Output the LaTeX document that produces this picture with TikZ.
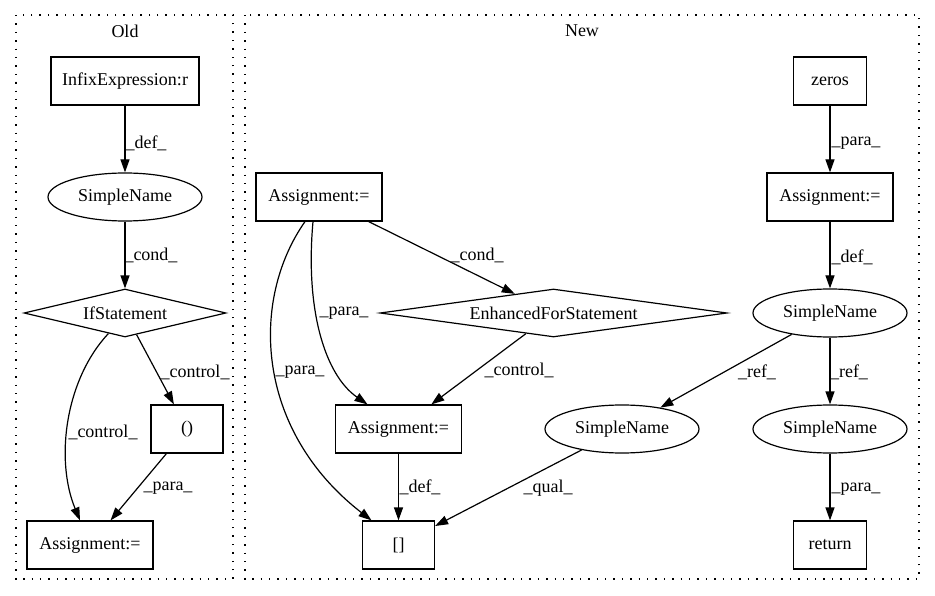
\documentclass[tikz,border=0pt]{standalone}
\usepackage{fontspec}
\setmainfont{Liberation Serif}
\usetikzlibrary{shapes.geometric,arrows.meta}
\begin{document}
\begin{tikzpicture}[x=1pt,y=-1pt,
  every node/.style={font=\fontsize{18}{20}\selectfont, inner sep=0pt},
  box/.style={draw, line width=1.2pt, rectangle, minimum height=48pt},
  ell/.style={draw, line width=1.2pt, ellipse, minimum width=154pt, minimum height=48pt},
  dia/.style={draw, line width=1.2pt, diamond, minimum height=48pt, aspect=7},
  arr/.style={line width=1.2pt, -{Triangle[length=13pt,width=9pt]}},
  lbl/.style={fill=none},
  cluster/.style={line width=1.2pt, dash pattern=on 1.4pt off 7pt}
]
\useasboundingbox (0,0) rectangle (935,596);
% clusters
\draw[cluster] (16,15) rectangle (233,579);
\node (oldt) at (125,31) {Old};
\draw[cluster] (245,15) rectangle (919,579);
\node (newt) at (582,31) {New};
% Old nodes
\node[box, minimum width=148pt] (infix) at (125,81) {InfixExpression:r};
\node[ell] (sn1) at (125,197) {SimpleName};
\node[dia, minimum width=202pt] (ifs) at (125,313) {\makebox[0pt]{IfStatement}};
\node[box, minimum width=72pt] (paren) at (187,429) {()};
\node[box, minimum width=126pt] (asg1) at (90,545) {Assignment:=};
% New nodes
\node[box, minimum width=126pt] (asgL) at (319,197) {Assignment:=};
\node[dia, minimum width=347pt] (efs) at (553.5,313) {\makebox[0pt]{EnhancedForStatement}};
\node[box, minimum width=126pt] (asgM) at (398.5,429) {Assignment:=};
\node[box, minimum width=72pt] (sq) at (398.5,545) {[]};
\node[ell] (snm) at (622,429) {SimpleName};
\node[box, minimum width=73pt] (zeros) at (830,81) {zeros};
\node[box, minimum width=126pt] (asgR) at (830,197) {Assignment:=};
\node[ell] (snt) at (830,313) {SimpleName};
\node[ell] (snb) at (830,429) {SimpleName};
\node[box, minimum width=73pt] (ret) at (830,545) {return};
% Old edges
\draw[arr] (infix) -- (sn1);
\draw[arr] (sn1) -- (ifs);
\draw[arr] (ifs) -- (paren);
\draw[arr] (ifs.231) .. controls (65,380) and (55,460) .. ([xshift=-10pt]asg1.north);
\draw[arr] (paren) -- (asg1);
% New edges
\draw[arr] (zeros) -- (asgR);
\draw[arr] (asgR) -- (snt);
\draw[arr] (snt) -- (snb);
\draw[arr] (snt) -- (snm);
\draw[arr] (snb) -- (ret);
\draw[arr] (snm) -- (sq);
\draw[arr] (asgL) -- (efs);
\draw[arr] (efs) -- (asgM);
\draw[arr] (asgM) -- (sq);
\draw[arr] ([xshift=-6pt]asgL.south) .. controls (305,310) and (325,375) .. ([xshift=-31pt]asgM.north);
\draw[arr] ([xshift=-14pt]asgL.south) .. controls (250,300) and (255,430) .. ([xshift=-27pt]sq.north);
% labels
\node[lbl] (l1) at (146,143) {\_def\_};
\node[lbl] (l2) at (151,255) {\_cond\_};
\node[lbl] (l3) at (195,372) {\_control\_};
\node[lbl] (l4) at (103,432) {\_control\_};
\node[lbl] (l5) at (168,488) {\_para\_};
\node[lbl] (l6) at (477,255) {\_cond\_};
\node[lbl] (l7) at (344,313) {\_para\_};
\node[lbl] (l8) at (300,372) {\_para\_};
\node[lbl] (l9) at (519,370) {\_control\_};
\node[lbl] (l10) at (420,487) {\_def\_};
\node[lbl] (l11) at (548,488) {\_qual\_};
\node[lbl] (l12) at (856,143) {\_para\_};
\node[lbl] (l13) at (852,257) {\_def\_};
\node[lbl] (l14) at (849,372) {\_ref\_};
\node[lbl] (l15) at (757,372) {\_ref\_};
\node[lbl] (l16) at (856,489) {\_para\_};
\end{tikzpicture}
\end{document}
